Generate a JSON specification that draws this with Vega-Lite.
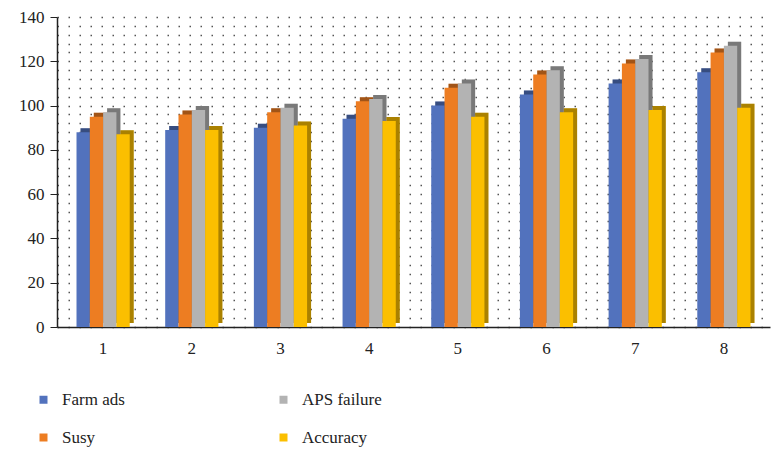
{
  "$schema": "https://vega.github.io/schema/vega-lite/v6.json",
  "width": 713,
  "height": 310,
  "autosize": "none",
  "padding": {"left": 57, "top": 17, "right": 3, "bottom": 124},
  "background": "white",
  "config": {
    "view": {"stroke": null},
    "font": "'Liberation Serif', 'DejaVu Serif', serif",
    "axis": {"labelFont": "'Liberation Serif', 'DejaVu Serif', serif"},
    "legend": {"labelFont": "'Liberation Serif', 'DejaVu Serif', serif"}
  },
  "data": {
    "values": [
      {"g": "1", "s": "Farm ads", "v": 88}, {"g": "1", "s": "Susy", "v": 95}, {"g": "1", "s": "APS failure", "v": 97}, {"g": "1", "s": "Accuracy", "v": 87},
      {"g": "2", "s": "Farm ads", "v": 89}, {"g": "2", "s": "Susy", "v": 96}, {"g": "2", "s": "APS failure", "v": 98}, {"g": "2", "s": "Accuracy", "v": 89},
      {"g": "3", "s": "Farm ads", "v": 90}, {"g": "3", "s": "Susy", "v": 97}, {"g": "3", "s": "APS failure", "v": 99}, {"g": "3", "s": "Accuracy", "v": 91},
      {"g": "4", "s": "Farm ads", "v": 94}, {"g": "4", "s": "Susy", "v": 102}, {"g": "4", "s": "APS failure", "v": 103}, {"g": "4", "s": "Accuracy", "v": 93},
      {"g": "5", "s": "Farm ads", "v": 100}, {"g": "5", "s": "Susy", "v": 108}, {"g": "5", "s": "APS failure", "v": 110}, {"g": "5", "s": "Accuracy", "v": 95},
      {"g": "6", "s": "Farm ads", "v": 105}, {"g": "6", "s": "Susy", "v": 114}, {"g": "6", "s": "APS failure", "v": 116}, {"g": "6", "s": "Accuracy", "v": 97},
      {"g": "7", "s": "Farm ads", "v": 110}, {"g": "7", "s": "Susy", "v": 119}, {"g": "7", "s": "APS failure", "v": 121}, {"g": "7", "s": "Accuracy", "v": 98},
      {"g": "8", "s": "Farm ads", "v": 115}, {"g": "8", "s": "Susy", "v": 124}, {"g": "8", "s": "APS failure", "v": 127}, {"g": "8", "s": "Accuracy", "v": 99}
    ]
  },
  "encoding": {
    "x": {
      "field": "g",
      "type": "nominal",
      "scale": {"paddingInner": 0.4, "paddingOuter": 0.22},
      "axis": {
        "title": null,
        "labelAngle": 0,
        "labelFontSize": 17,
        "labelColor": "#222",
        "labelPadding": 13,
        "ticks": false,
        "domainColor": "#222",
        "domainWidth": 1.5
      }
    },
    "y": {
      "field": "v",
      "type": "quantitative",
      "scale": {"domain": [0, 140], "nice": false},
      "axis": {
        "title": null,
        "values": [0, 4, 8, 12, 16, 20, 24, 28, 32, 36, 40, 44, 48, 52, 56, 60, 64, 68, 72, 76, 80, 84, 88, 92, 96, 100, 104, 108, 112, 116, 120, 124, 128, 132, 136, 140],
        "labelExpr": "datum.value % 20 === 0 ? datum.label : ''",
        "labelFontSize": 17,
        "labelColor": "#222",
        "labelPadding": 6,
        "tickSize": 7,
        "tickColor": "#222",
        "tickOpacity": {"condition": {"test": "datum.value % 20 === 0", "value": 1}, "value": 0},
        "domainColor": "#222",
        "domainWidth": 1.5,
        "grid": true,
        "gridDash": [1.5, 9.5],
        "gridColor": "#555",
        "gridWidth": 1.4
      }
    },
    "color": {
      "field": "s",
      "type": "nominal",
      "scale": {
        "domain": ["Farm ads", "APS failure", "Susy", "Accuracy"],
        "range": ["#5272bd", "#b3b3b3", "#ed7d22", "#fbbf00"]
      },
      "legend": {
        "title": null,
        "orient": "none",
        "legendX": -22,
        "legendY": 374,
        "columns": 2,
        "direction": "horizontal",
        "columnPadding": 150,
        "rowPadding": 20,
        "symbolType": "square",
        "symbolSize": 64,
        "symbolStrokeWidth": 0,
        "symbolOpacity": 1,
        "labelFontSize": 17,
        "labelColor": "#222",
        "labelOffset": 10
      }
    }
  },
  "layer": [
    {
      "mark": {"type": "bar", "yOffset": -4},
      "encoding": {
        "xOffset": {"field": "s", "type": "nominal", "sort": ["Farm ads", "Susy", "APS failure", "Accuracy"], "scale": {"paddingInner": 0, "paddingOuter": 0, "range": [4, 57.2]}}
      }
    },
    {
      "mark": {"type": "bar", "yOffset": -4, "opacity": 0.32},
      "encoding": {
        "color": {"value": "#000"},
        "xOffset": {"field": "s", "type": "nominal", "sort": ["Farm ads", "Susy", "APS failure", "Accuracy"], "scale": {"paddingInner": 0, "paddingOuter": 0, "range": [4, 57.2]}}
      }
    },
    {
      "mark": {"type": "bar"},
      "encoding": {
        "xOffset": {"field": "s", "type": "nominal", "sort": ["Farm ads", "Susy", "APS failure", "Accuracy"], "scale": {"paddingInner": 0, "paddingOuter": 0}}
      }
    }
  ],
  "resolve": {"scale": {"xOffset": "independent"}}
}
